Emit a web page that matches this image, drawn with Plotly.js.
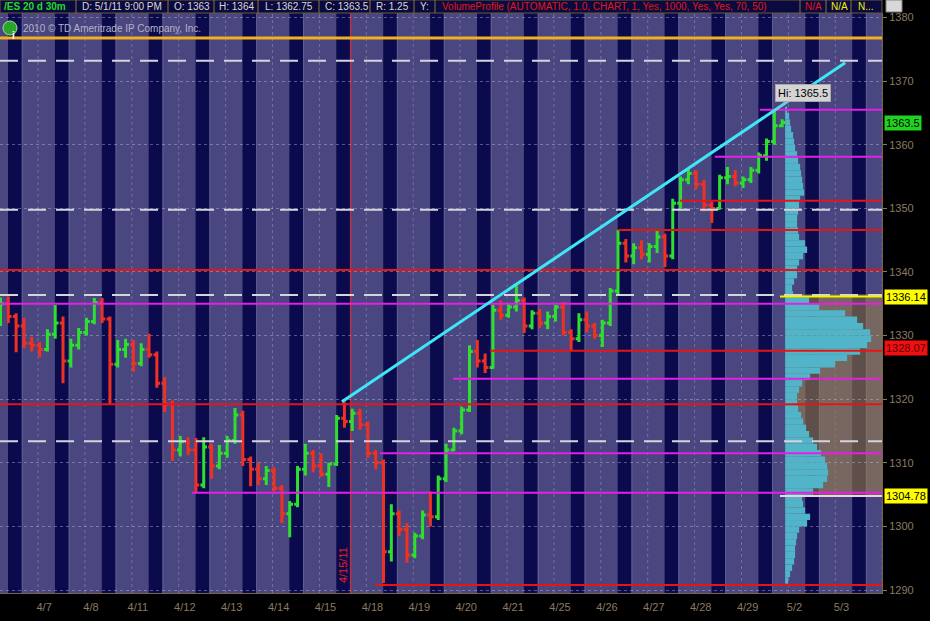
<!DOCTYPE html>
<html><head><meta charset="utf-8">
<script src="https://cdn.plot.ly/plotly-3.0.1.min.js"></script>
<style>html,body{margin:0;padding:0;background:#000;}#chart{width:930px;height:621px;}</style>
</head><body><div id="chart"></div>
<script>
// ---------- DATA ----------
const dayLabels = ['4/7','4/8','4/11','4/12','4/13','4/14','4/15','4/18','4/19','4/20','4/21','4/25','4/26','4/27','4/28','4/29','5/2','5/3'];
const barsPerDay = 6;
const firstBarDay = -0.16;

const barOpen = [1332.5,1335,1333,1331.5,1328.8,1328.5,1327.8,1330.2,1332,1326,
1328.5,1330.5,1332.2,1335.2,1332.6,1325.5,1327.8,1328.6,1325.6,1327.8,
1327,1322.5,1319.2,1312,1313.3,1312,1306.5,1312.5,1309.5,1311.5,
1313.5,1317.5,1310.5,1309,1307.5,1308.8,1306,1302,1303.5,1309,
1311.5,1309.5,1308.2,1309.8,1317,1316.5,1317.8,1316,1311.5,1310,
1296,1302,1299.5,1295.5,1298.5,1301.8,1301.5,1307.5,1312,1315,
1318.3,1327.5,1326,1325,1334,1333.2,1334.5,1335.5,1331.5,1333.5,
1332,1333,1334.5,1330.5,1329.5,1332.5,1331.5,1330,1332,1337,
1344.5,1342.5,1343.8,1342.8,1344,1345.5,1342.5,1350.8,1354.5,1355.5,
1353.8,1350.5,1350,1354.8,1355,1354,1354.5,1356,1358.3,1360.5,1363];
const barHigh = [1336,1336.2,1333.5,1332.8,1329.8,1329,1331,1334.8,1333,1329.5,
1331.2,1332.8,1335.9,1335.9,1333,1329.3,1329.5,1329.3,1328.8,1330.3,
1327.5,1323.5,1319.8,1314.2,1314,1313.9,1314,1313,1312.8,1314.2,
1318.6,1318.2,1311,1310,1309.5,1309.3,1306.5,1304,1309.5,1313,
1312,1311.5,1310,1317.5,1319.6,1318.5,1318.5,1316.5,1312,1310.5,
1303.5,1302.5,1300.5,1299,1302.5,1305.5,1308,1313,1315.5,1318.8,
1328.5,1329.3,1327.2,1334.8,1335.5,1335,1337.9,1336,1334,1334.2,
1333.8,1334.8,1335.3,1331,1333.5,1333.8,1332,1332.5,1337.5,1346.6,
1345.2,1344.5,1345,1344.5,1346.6,1346,1351.5,1355,1356.3,1356,
1354.5,1351,1355.3,1356.5,1356,1355,1356.5,1358.8,1361,1365.5,1364];
const barLow = [1331.5,1332,1327.4,1328,1327.5,1326.6,1327.5,1329.5,1322.5,1325,
1327.8,1330,1331.8,1332,1319.1,1325,1326.5,1324.3,1325.2,1326.5,
1321.8,1318,1310.3,1311,1311.2,1305.2,1306,1307.5,1309,1310.8,
1313,1309.5,1306.3,1306.5,1306.5,1305.5,1300.5,1298.3,1303,1308,
1308.5,1307.8,1306.2,1309.5,1315.5,1315,1315.2,1310.8,1309,1291.1,
1294.5,1298.5,1294.3,1295,1298,1300,1301,1307,1311.8,1314.5,
1318,1325,1324.1,1324.8,1332.5,1332.8,1333.8,1330.4,1331,1331.2,
1331,1332.2,1330,1327.7,1329,1330.5,1329.5,1328.2,1331.5,1336.5,
1341.5,1341.2,1342,1341.5,1343,1340.8,1342,1350,1353.8,1353,
1349.5,1347.7,1349.8,1353.8,1353.5,1353.2,1354,1355.5,1357.5,1360,1362.75];
const barClose = [1335,1333,1331.5,1328.8,1328.5,1327.8,1330.2,1332,1326,1328.5,
1330.5,1332.2,1335.2,1332.6,1325.5,1327.8,1328.6,1325.6,1327.8,1327,
1322.5,1319.2,1312,1313.3,1312,1306.5,1312.5,1309.5,1311.5,1313.5,
1317.5,1310.5,1309,1307.5,1308.8,1306,1302,1303.5,1309,1311.5,
1309.5,1308.2,1309.8,1317,1316.5,1317.8,1316,1311.5,1310,1296,
1302,1299.5,1295.5,1298.5,1301.8,1301.5,1307.5,1312,1315,1318.3,
1327.5,1326,1325,1334,1333.2,1334.5,1335.5,1331.5,1333.5,1332,
1333,1334.5,1330.5,1329.5,1332.5,1331.5,1330,1332,1337,1344.5,
1342.5,1343.8,1342.8,1344,1345.5,1342.5,1350.8,1354.5,1355.5,1353.8,
1350.5,1350,1354.8,1355,1354,1354.5,1356,1358.3,1360.5,1363,1363.5];

// volume profile: price bin (lower edge, 1-pt bins) and relative volume
const vpPrice = [];
for (let p = 1291; p <= 1365; p++) vpPrice.push(p);
const vpVolume = [3,5,7,9,10,10,11,12,14,22,25,20,18,17,28,38,42,43,42,40,
36,32,28,24,21,18,16,13,12,12,14,17,25,35,50,62,75,82,86,85,
78,72,60,34,24,8,7,9,12,12,14,18,22,20,14,13,12,12,13,14,
15,19,18,17,16,15,13,12,10,9,8,6,5,4,2];

// horizontal levels (price, start day)
const magentaLevels = [1365.5,1358.1,1335.0,1323.2,1311.5,1305.3];
const magentaStart  = [16.03,15.07,-0.17,9.49,7.93,3.92];
const redLevels = [1351.2,1346.6,1340.3,1327.6,1319.2,1290.8];
const redStart  = [14.33,13.01,-0.17,10.28,-0.17,7.83];
const pivotLevels = [1373.2,1349.8,1336.4,1313.4];
const orangeLevel = 1376.8;
const yellowLevels = [1336.14];
const vaLowLevel = 1304.78;
const vaStartDay = 16.46;
const trendX = [7.12, 17.85];
const trendY = [1319.6, 1372.9];
const markerDay = 7.31;

const lastLabels = [
  {text:'1363.5', y:1363.5, bg:'#1fd41f', fg:'#000'},
  {text:'1336.14', y:1336.14, bg:'#ffff00', fg:'#000'},
  {text:'1328.07', y:1328.07, bg:'#f01010', fg:'#5a0000'},
  {text:'1304.78', y:1304.78, bg:'#ffff00', fg:'#000'}
];

const headerItems = [
  {t:'<b>/ES 20 d 30m</b>', c:'#22dd22', x:2},
  {t:'D: 5/1/11 9:00 PM', c:'#d8d8d8', x:80},
  {t:'O: 1363', c:'#d8d8d8', x:172},
  {t:'H: 1364', c:'#d8d8d8', x:217},
  {t:'L: 1362.75', c:'#d8d8d8', x:263},
  {t:'C: 1363.5', c:'#d8d8d8', x:323},
  {t:'R: 1.25', c:'#d8d8d8', x:374},
  {t:'Y:', c:'#d8d8d8', x:418},
  {t:'VolumeProfile (AUTOMATIC, 1.0, CHART, 1, Yes, 1000, Yes, Yes, 70, 50)', c:'#e01818', x:440},
  {t:'N/A', c:'#e01818', x:803},
  {t:'N/A', c:'#f0f000', x:829},
  {t:'N...', c:'#f0f000', x:856}
];
const headerSeps = [76,168,214,258,319,370,414,435,800,826,851];

// ---------- BUILD ----------
const PXDAY = 46.9;           // pixels per day for layout conversions
const X0 = -8 / PXDAY, X1 = 874 / PXDAY;
const Y0 = 1289.53, Y1 = 1380.72;
const PLOT_W = 882, PLOT_H = 580;
const barTime = barClose.map((_, i) => firstBarDay + i / barsPerDay);

const traces = [];

// volume profile
traces.push({
  type:'bar', orientation:'h', y: vpPrice.map(p => p + 0.5),
  x: vpVolume.map(v => v / PXDAY), base: 16.57, width: 1,
  marker:{color:'#52b4c8', line:{width:0}}, hoverinfo:'skip', showlegend:false
});

function hline(y, x0, color, width, dash) {
  traces.push({type:'scatter', mode:'lines', x:[x0, X1], y:[y, y],
    line:{color:color, width:width, dash:dash || 'solid'}, hoverinfo:'skip', showlegend:false});
}
hline(orangeLevel, X0, '#f2b01e', 3);
pivotLevels.forEach(v => hline(v, X0, '#d4d4dc', 2, '18px,10px'));
redLevels.forEach((v, i) => hline(v, redStart[i], '#e81414', 2));
magentaLevels.forEach((v, i) => hline(v, magentaStart[i], '#e61ee6', 2));
yellowLevels.forEach(v => hline(v, vaStartDay, '#f4f400', 2));
hline(vaLowLevel, vaStartDay, '#f0d0e0', 2);

traces.push({
  type:'ohlc', x: barTime, open: barOpen, high: barHigh, low: barLow, close: barClose,
  increasing:{line:{color:'#2ee02e', width:3}},
  decreasing:{line:{color:'#f03020', width:3}},
  tickwidth:0.42, hoverinfo:'skip', showlegend:false
});

traces.push({type:'scatter', mode:'lines', x: trendX, y: trendY,
  line:{color:'#3ee6f6', width:3}, hoverinfo:'skip', showlegend:false});

// shapes
const shapes = [];
for (let d = 0; d <= dayLabels.length; d++) {
  shapes.push({type:'rect', layer:'below', xref:'x', yref:'paper', x0:d, x1:d + 0.3, y0:0, y1:1,
    fillcolor:'#0b0a4c', line:{width:0}});
  shapes.push({type:'line', layer:'below', xref:'x', yref:'paper', x0:d + 0.3, x1:d + 0.3, y0:0, y1:1,
    line:{color:'rgba(150,150,195,0.5)', width:1}});
  shapes.push({type:'line', layer:'below', xref:'x', yref:'paper', x0:d + 0.64, x1:d + 0.64, y0:0, y1:1,
    line:{color:'rgba(175,175,210,0.4)', width:1, dash:'dot'}});
}
// value area shading
shapes.push({type:'rect', layer:'below', xref:'x', yref:'y', x0:16.6, x1:X1, y0:1304.8, y1:1336.5,
  fillcolor:'rgba(150,125,75,0.6)', line:{width:0}});
// date marker
shapes.push({type:'line', layer:'below', xref:'x', yref:'paper', x0:markerDay, x1:markerDay, y0:0, y1:1,
  line:{color:'#e82020', width:1}});
// header bar
const hTop = 1 + 13 / PLOT_H;
shapes.push({type:'rect', xref:'paper', yref:'paper', x0:0, x1:1, y0:1, y1:hTop,
  fillcolor:'#0a0a3e', line:{color:'#6b5a36', width:1}});
headerSeps.forEach(px => shapes.push({type:'line', xref:'paper', yref:'paper', x0:px / PLOT_W, x1:px / PLOT_W,
  y0:1, y1:hTop, line:{color:'#8a7440', width:1}}));
// top-right icon
shapes.push({type:'rect', xref:'paper', yref:'paper', x0:886 / PLOT_W, x1:902 / PLOT_W, y0:1 + 1 / PLOT_H, y1:1 + 13 / PLOT_H,
  fillcolor:'#d8d8d8', line:{color:'#808080', width:1}});
// info icon
shapes.push({type:'circle', xref:'paper', yref:'paper', x0:3 / PLOT_W, x1:17 / PLOT_W,
  y0:(593 - 35) / PLOT_H, y1:(593 - 21) / PLOT_H, fillcolor:'#2aa42a', line:{color:'#a0e0a0', width:1}});

// annotations
const ann = [];
headerItems.forEach(h => ann.push({xref:'paper', yref:'paper', x:h.x / PLOT_W, y:1 + 6.5 / PLOT_H,
  xanchor:'left', yanchor:'middle', text:h.t, showarrow:false, font:{color:h.c, size:10}}));
lastLabels.forEach(l => ann.push({xref:'paper', yref:'y', x:884 / PLOT_W, y:l.y, xanchor:'left', yanchor:'middle',
  text:l.text, showarrow:false, bgcolor:l.bg, font:{color:l.fg, size:11}, borderpad:1}));
ann.push({xref:'x', yref:'y', x:barTime[99], y:1365.5, ax:29, ay:-17, text:'Hi: 1365.5',
  showarrow:true, arrowhead:0, arrowwidth:1, arrowcolor:'#b0b0b0', bgcolor:'#d4d4d4', bordercolor:'#a8a8a8',
  borderpad:2, font:{color:'#000', size:11}});
ann.push({xref:'x', yref:'y', x:7.14, y:1293.9, text:'4/15/11', textangle:-90, showarrow:false,
  font:{color:'#e82020', size:11}});
ann.push({xref:'paper', yref:'paper', x:10 / PLOT_W, y:(593 - 28) / PLOT_H, text:'<b>i</b>', showarrow:false,
  font:{color:'#fff', size:10}});
ann.push({xref:'paper', yref:'paper', x:21 / PLOT_W, y:(593 - 28) / PLOT_H, xanchor:'left', yanchor:'middle',
  text:'2010 © TD Ameritrade IP Company, Inc.', showarrow:false, font:{color:'#b4b4c4', size:10}});

const layout = {
  width:930, height:621, margin:{l:0, r:48, t:13, b:28},
  paper_bgcolor:'#000', plot_bgcolor:'#4a4680',
  font:{family:'"Liberation Sans", Arial, sans-serif', color:'#8c7a60', size:11},
  showlegend:false, barmode:'overlay',
  xaxis:{range:[X0, X1], tickvals: dayLabels.map((_, d) => d + 0.77), ticktext: dayLabels,
    showgrid:false, zeroline:false, showline:true, linecolor:'#7a6448', ticks:'outside', ticklen:4,
    tickcolor:'rgba(0,0,0,0)', tickfont:{color:'#8c7a60', size:11}, rangeslider:{visible:false}, fixedrange:true},
  yaxis:{range:[Y0, Y1], side:'right', tick0:1290, dtick:10, showgrid:true, gridcolor:'rgba(200,200,225,0.4)',
    griddash:'dot', zeroline:false, showline:true, linecolor:'#7a6448', ticks:'outside', ticklen:4,
    tickcolor:'#8c7a60', tickfont:{color:'#8c7a60', size:11}, fixedrange:true},
  shapes: shapes, annotations: ann
};
Plotly.newPlot('chart', traces, layout, {staticPlot:true, displayModeBar:false});
</script></body></html>
